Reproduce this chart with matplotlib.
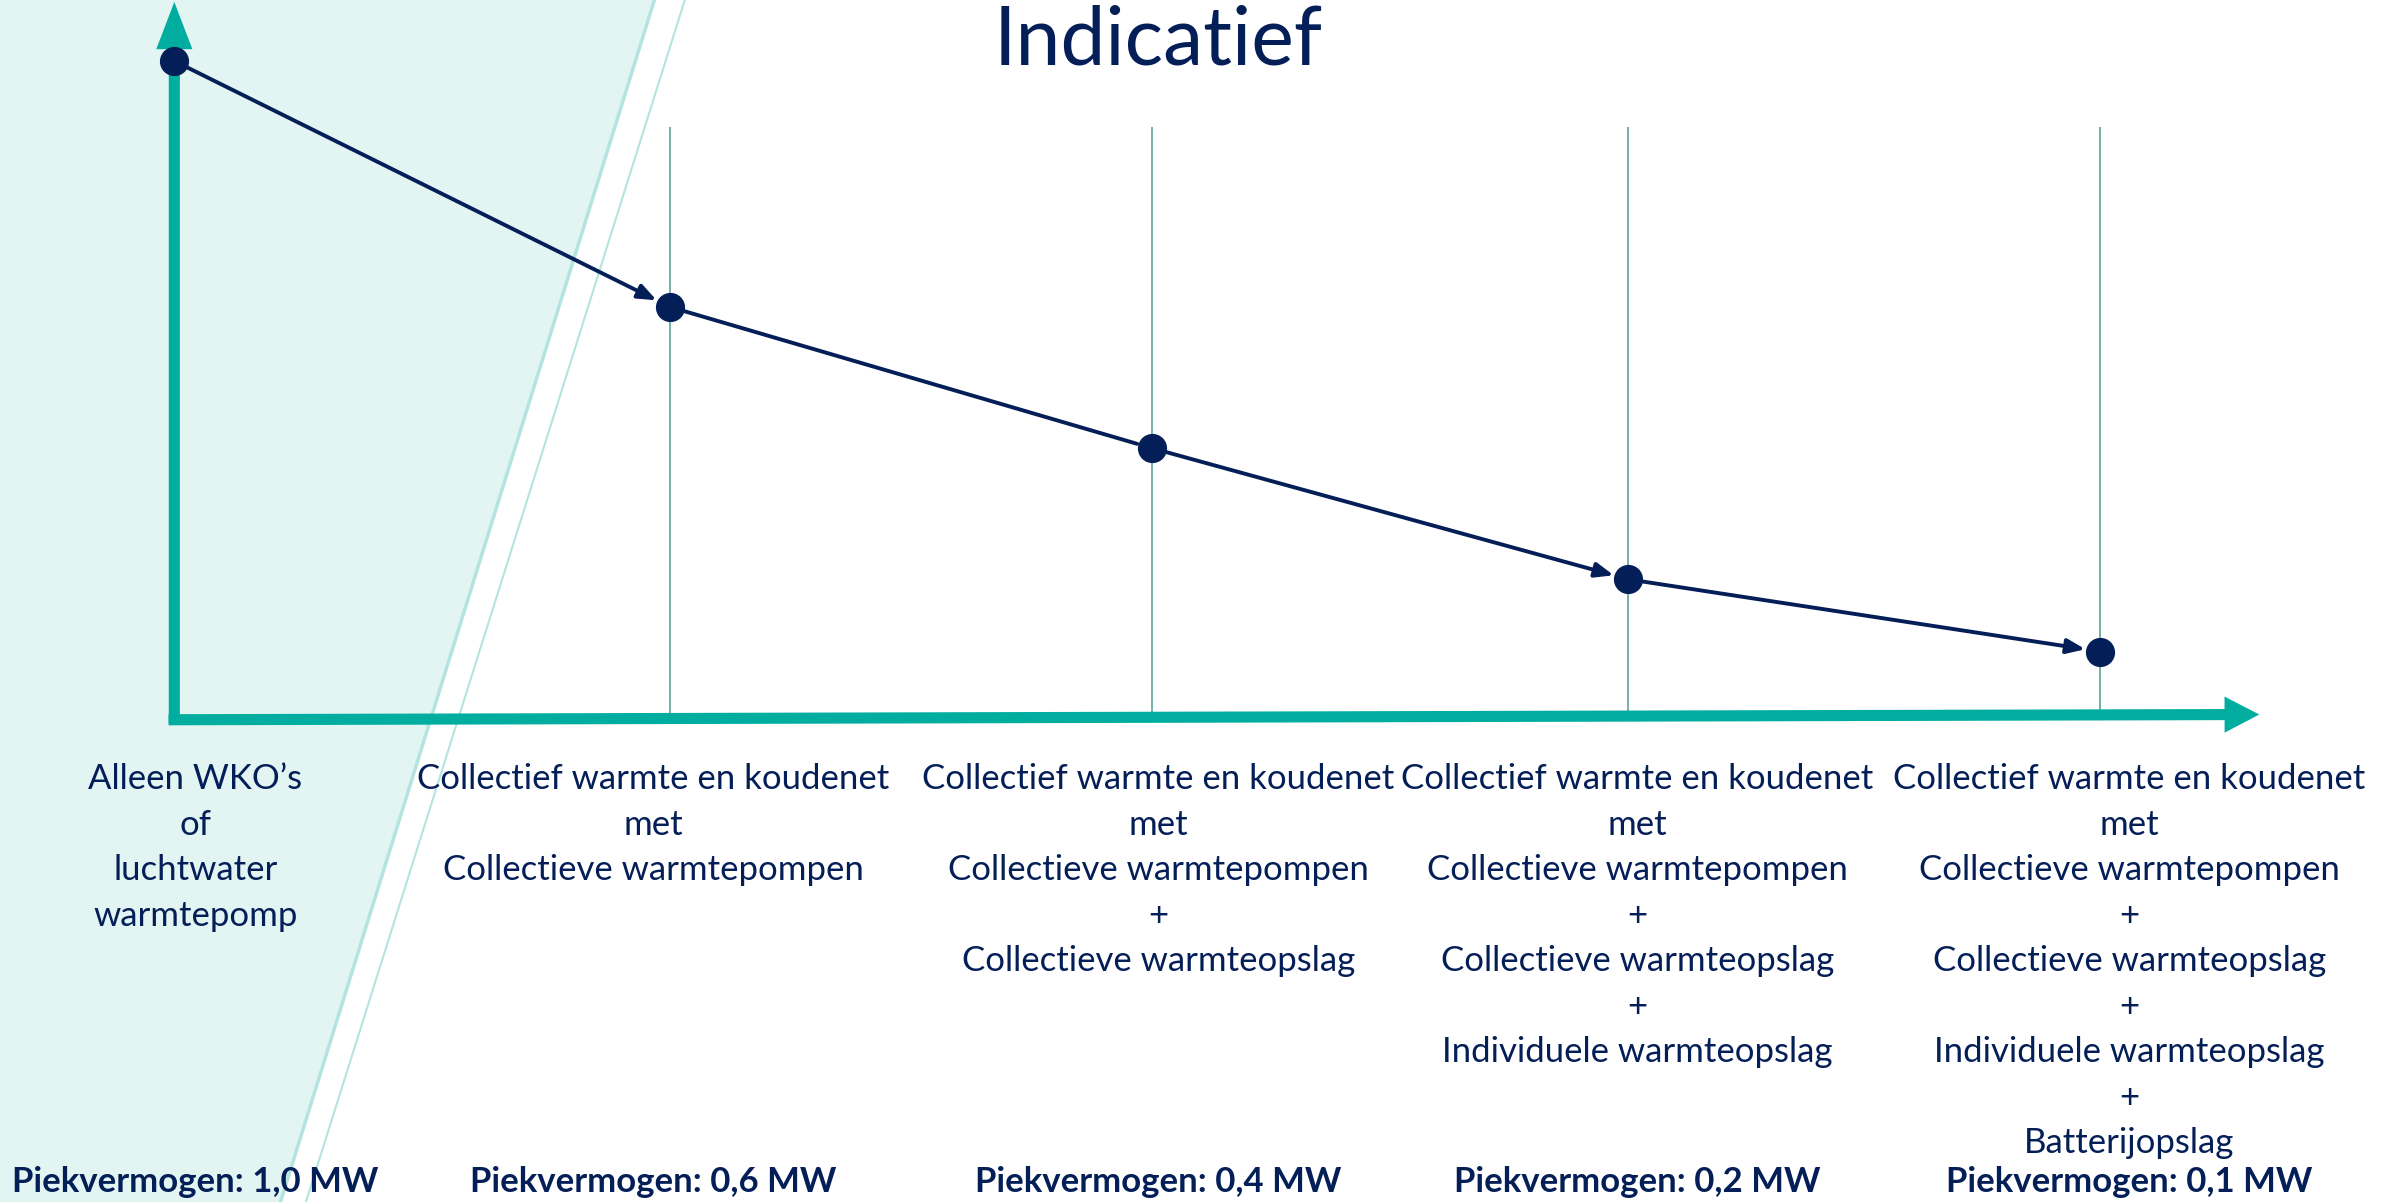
import numpy as np
import matplotlib
matplotlib.use("Agg")
import matplotlib.pyplot as plt
from matplotlib.patches import ArrowStyle, Polygon

# gegevens
stages = [0, 1.03, 2.03, 3.02, 4.0]
level = [1.0, 0.625, 0.41, 0.21, 0.10]
peak_mw = [1.0, 0.6, 0.4, 0.2, 0.1]
stage_labels = [
    "Alleen WKO’s\nof\nluchtwater\nwarmtepomp",
    "Collectief warmte en koudenet\nmet\nCollectieve warmtepompen",
    "Collectief warmte en koudenet\nmet\nCollectieve warmtepompen\n+\nCollectieve warmteopslag",
    "Collectief warmte en koudenet\nmet\nCollectieve warmtepompen\n+\nCollectieve warmteopslag\n+\nIndividuele warmteopslag",
    "Collectief warmte en koudenet\nmet\nCollectieve warmtepompen\n+\nCollectieve warmteopslag\n+\nIndividuele warmteopslag\n+\nBatterijopslag",
]
arrow_head = [True, False, True, True]

navy = "#041e57"
teal = "#00ad9f"
grid_col = "#529a91"
shade = "#e3f5f3"

plt.rcParams["font.family"] = ["Lato", "DejaVu Sans"]

fig = plt.figure(figsize=(23.97, 12.02), dpi=100)
ax = fig.add_axes([0, 0, 1, 1])
ax.set_xlim(-0.362, 4.616)
ax.set_ylim(-0.739, 1.093)
ax.axis("off")

# schuine lichte band links
ax.add_patch(Polygon([[0, 1], [0.273, 1], [0.117, 0], [0, 0]], closed=True,
                     transform=ax.transAxes, facecolor=shade, edgecolor="none", zorder=0))
ax.plot([0.273, 0.117], [1, 0], transform=ax.transAxes, color="#b3e4df", lw=2.5, zorder=0.5)
ax.plot([0.2857, 0.1276], [1, 0], transform=ax.transAxes, color="#b3e4df", lw=1.5, zorder=0.5)

# verticale hulplijnen
ax.vlines(stages[1:], 0, 0.90, color=grid_col, lw=1.1, zorder=1)

# assen met pijlen
ax.annotate("", xy=(4.33, 0.004), xytext=(-0.012, -0.004),
            arrowprops=dict(arrowstyle=ArrowStyle("simple", head_length=2.5, head_width=2.6, tail_width=0.8),
                            mutation_scale=10, color=teal, lw=0, shrinkA=0, shrinkB=0), zorder=2)
ax.annotate("", xy=(0, 1.09), xytext=(0, -0.009),
            arrowprops=dict(arrowstyle=ArrowStyle("simple", head_length=3.4, head_width=2.6, tail_width=0.8),
                            mutation_scale=10, color=teal, lw=0, shrinkA=0, shrinkB=0), zorder=2)

# verbindingslijnen met pijlpunten
for i in range(len(stages) - 1):
    style = ArrowStyle("-|>", head_length=0.55, head_width=0.22) if arrow_head[i] else ArrowStyle("-")
    ax.annotate("", xy=(stages[i + 1], level[i + 1]), xytext=(stages[i], level[i]),
                arrowprops=dict(arrowstyle=style, mutation_scale=20, color=navy, lw=2.8,
                                shrinkA=0, shrinkB=11), zorder=3)
ax.plot(stages, level, "o", color=navy, ms=20, zorder=4)

# titel
ax.text(2.044, 1.03, "Indicatief", ha="center", va="center", fontsize=58, color=navy)

# labels onder de as
label_shift = [0.044, -0.036, 0.014, 0.018, 0.06]
for x, s, lab, mw in zip(stages, label_shift, stage_labels, peak_mw):
    ax.text(x + s, -0.070, lab, ha="center", va="top", fontsize=25, color=navy, linespacing=1.52)
    ax.text(x + s, -0.709, "Piekvermogen: " + f"{mw:.1f}".replace(".", ",") + " MW",
            ha="center", va="center", fontsize=25, fontweight="bold", color=navy)

fig.savefig("out.png", dpi=100)
